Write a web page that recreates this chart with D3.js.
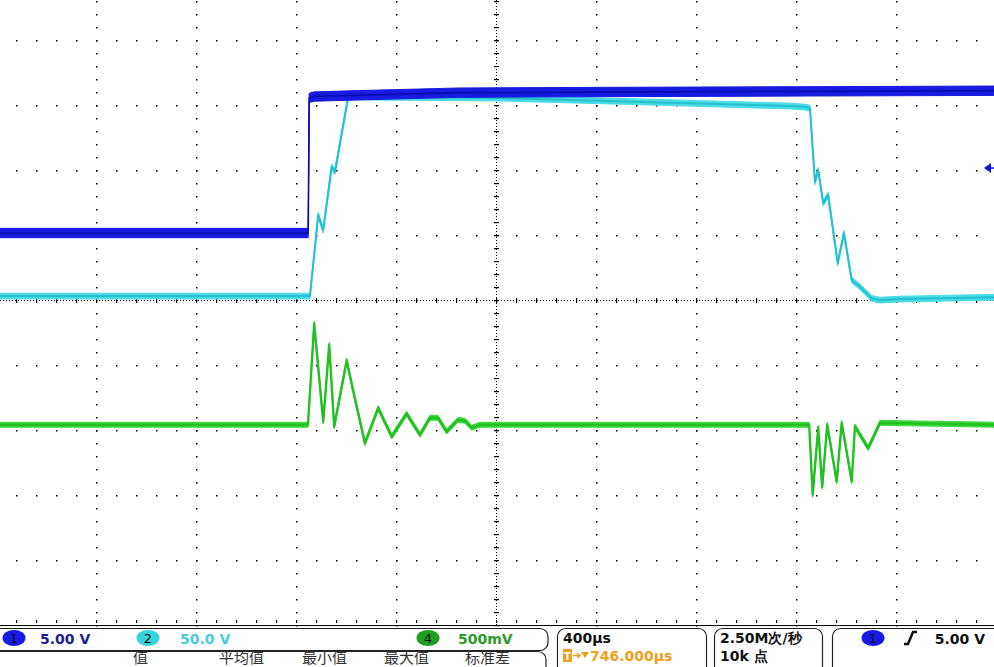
<!DOCTYPE html>
<html><head><meta charset="utf-8">
<script src="https://cdn.jsdelivr.net/npm/d3@7"></script>
<style>body{margin:0;background:#fff;overflow:hidden}svg{display:block}</style>
</head><body>
<script>
// ---- Acquisition settings ----
const timePerDivUs = 400;
const triggerDelayUs = 746;
const sampleRateLabel = "2.50M次/秒";
const recordLengthLabel = "10k 点";
const triggerLevelV = 5.0;

// ---- Channels ----
const channelIds = ["1", "2", "4"];
const voltsPerDiv = [5, 50, 0.5];
const positionDiv = [1.03, 0.06, -1.92];
const noiseHalfBandV = [0.36, 2.2, 0.019];
const scaleLabels = ["5.00 V", "50.0 V", "500mV"];
const measurementHeaders = ["值", "平均值", "最小值", "最大值", "标准差"];

// CH1 : time in µs, value in V
const ch1Time  = [-1260, -4, 0, 20, 200, 600, 1200, 2000, 2760];
const ch1Volts = [0, 0, 10.4, 10.5, 10.6, 10.8, 10.85, 10.9, 10.95];

// CH2
const ch2Time  = [-1260, 3, 36, 56, 90, 103, 156, 203, 763, 1363, 1923, 1983, 2003, 2023, 2036, 2056, 2076, 2114, 2139, 2170, 2203, 2250, 2283, 2363, 2760];
const ch2Volts = [0, 0, 62.3, 50.8, 99.5, 95.6, 153.3, 153.1, 152.3, 149.2, 146.2, 145.4, 144.6, 87.9, 96.9, 71.5, 77.7, 25.4, 48.5, 12.3, 7.2, -1.8, -3.1, -2.3, -0.8];

// CH4
const ch4Time  = [-1260, -5, 20, 56, 80, 100, 150, 175, 223, 276, 330, 390, 443, 483, 515, 550, 595, 623, 650, 683, 2000, 2014, 2036, 2052, 2072, 2110, 2130, 2170, 2183, 2236, 2283, 2760];
const ch4Volts = [0, 0, 0.777, 0.025, 0.615, -0.013, 0.495, 0.269, -0.141, 0.128, -0.09, 0.085, -0.077, 0.054, 0.054, -0.052, 0.038, 0.031, -0.023, 0, 0, -0.538, -0.023, -0.477, 0, -0.436, 0.015, -0.436, -0.013, -0.179, 0.015, 0];

const W = 994, H = 667;
const svg = d3.select("body").append("svg").attr("width", W).attr("height", H)
  .style("font-family", "'DejaVu Sans', sans-serif");

const x = d3.scaleLinear()
  .domain([triggerDelayUs - 5 * timePerDivUs, triggerDelayUs + 5 * timePerDivUs])
  .range([-4.3, 995.7]);
const yDiv = d3.scaleLinear().domain([-5, 5]).range([625, -25]);

const plot = svg.append("g");
plot.append("rect").attr("x", 0).attr("y", 0).attr("width", W).attr("height", 626).attr("fill", "#fff");

// ---- Graticule ----
const grid = plot.append("g").attr("fill", "#000");
const majorT = d3.range(-4, 5).map(k => triggerDelayUs + k * timePerDivUs);
const majorD = d3.range(-4, 5);
const minorD = d3.range(-25, 24).map(i => i * 0.2);
const minorT = d3.range(-50, 51).map(i => triggerDelayUs + i * timePerDivUs / 5);

majorT.forEach(t => {
  if (t === triggerDelayUs) return;
  minorD.forEach(d => {
    grid.append("rect").attr("x", Math.round(x(t))).attr("y", Math.round(yDiv(d))).attr("width", 1.5).attr("height", 1.5);
  });
});
majorD.forEach(d => {
  if (d === 0) return;
  minorT.forEach(t => {
    grid.append("rect").attr("x", Math.round(x(t))).attr("y", Math.round(yDiv(d))).attr("width", 1.5).attr("height", 1.5);
  });
});
const cx = Math.round(x(triggerDelayUs)), cy = Math.round(yDiv(0));
plot.append("line").attr("x1", 0).attr("x2", W).attr("y1", cy + 0.5).attr("y2", cy + 0.5)
  .attr("stroke", "#000").attr("stroke-dasharray", "1,2");
plot.append("line").attr("x1", cx + 0.5).attr("x2", cx + 0.5).attr("y1", 0).attr("y2", 626)
  .attr("stroke", "#000").attr("stroke-dasharray", "1,2");
minorT.forEach(t => {
  const px = Math.round(x(t));
  if (px < 0 || px > W) return;
  grid.append("rect").attr("x", px).attr("y", cy - 2).attr("width", 1.2).attr("height", 5);
});
minorD.forEach(d => {
  const py = Math.round(yDiv(d));
  if (py < 0 || py > 626) return;
  grid.append("rect").attr("x", cx - 2).attr("y", py).attr("width", 5).attr("height", 1.2);
});
minorT.forEach(t => {
  const px = Math.round(x(t));
  grid.append("rect").attr("x", px).attr("y", 620).attr("width", 1.2).attr("height", 3);
});
plot.append("line").attr("x1", 0).attr("x2", W).attr("y1", 625.5).attr("y2", 625.5).attr("stroke", "#000").attr("stroke-width", 1.2);

// ---- Waveforms: noise envelope (area) + trace line ----
function toDiv(v, ch) { return v / voltsPerDiv[ch] + positionDiv[ch]; }
function drawTrace(times, volts, ch, color, edge, lineW) {
  const n = noiseHalfBandV[ch];
  const area = d3.area()
    .x((d, i) => x(times[i]))
    .y0((d, i) => yDiv(toDiv(volts[i] - n, ch)))
    .y1((d, i) => yDiv(toDiv(volts[i] + n, ch)));
  const line = d3.line()
    .x((d, i) => x(times[i]))
    .y((d, i) => yDiv(toDiv(volts[i], ch)));
  plot.append("path").attr("d", area(times)).attr("fill", color).attr("stroke", color).attr("stroke-width", 1);
  plot.append("path").attr("d", line(times)).attr("fill", "none")
    .attr("stroke", edge).attr("stroke-width", lineW).attr("stroke-linejoin", "round");
}
drawTrace(ch4Time, ch4Volts, 2, "#3ad83a", "#22c022", 2.4);
drawTrace(ch2Time, ch2Volts, 1, "#48dce6", "#26c0cc", 2);
drawTrace(ch1Time, ch1Volts, 0, "#1a1ae0", "#0c0ca8", 1.6);

// trigger level marker (CH1)
const trigY = yDiv(toDiv(triggerLevelV, 0));
plot.append("path").attr("d", `M984,${trigY} L991,${trigY - 5} L991,${trigY + 5} Z`).attr("fill", "#1414d8");
plot.append("line").attr("x1", 990).attr("x2", 994).attr("y1", trigY).attr("y2", trigY).attr("stroke", "#1414d8").attr("stroke-width", 1.5);

// ---- Status bar ----
const bar = svg.append("g");
function box(x0, y0, w, h) {
  bar.append("rect").attr("x", x0).attr("y", y0).attr("width", w).attr("height", h)
    .attr("rx", 8).attr("fill", "#fff").attr("stroke", "#222").attr("stroke-width", 1.2);
}
box(-10, 628.5, 558, 22);
box(-10, 651.5, 556, 30);
box(557.5, 628.5, 149, 50);
box(714.5, 628.5, 108, 50);
box(832.5, 628.5, 180, 50);

const badgeX = [14, 148, 428];
const badgeFill = ["#1a1ae6", "#38d4dc", "#1f9e1f"];
const labelX = [40, 180, 458];
const labelColor = ["#20208c", "#48ccd6", "#2a9a2a"];
channelIds.forEach((id, i) => {
  bar.append("ellipse").attr("cx", badgeX[i]).attr("cy", 638).attr("rx", 11.5).attr("ry", 8).attr("fill", badgeFill[i]);
  bar.append("text").attr("x", badgeX[i]).attr("y", 643).attr("text-anchor", "middle")
    .attr("font-size", 13).attr("fill", "#111").text(id);
  bar.append("text").attr("x", labelX[i]).attr("y", 644).attr("font-size", 14).attr("font-weight", "bold")
    .attr("fill", labelColor[i]).text(scaleLabels[i]);
});
const headerX = [133, 219, 302, 384, 465];
measurementHeaders.forEach((h, i) => {
  bar.append("text").attr("x", headerX[i]).attr("y", 663).attr("font-size", 15)
    .attr("font-family", "'Noto Sans CJK SC', sans-serif").attr("fill", "#333").text(h);
});

bar.append("text").attr("x", 563).attr("y", 643).attr("font-size", 14).attr("font-weight", "bold").attr("fill", "#111")
  .text(timePerDivUs + "µs");
bar.append("rect").attr("x", 563).attr("y", 649).attr("width", 9).attr("height", 13).attr("fill", "#f0a020");
bar.append("text").attr("x", 567.5).attr("y", 660).attr("text-anchor", "middle").attr("font-size", 10).attr("font-weight", "bold").attr("fill", "#fff").text("T");
bar.append("path").attr("d", "M573,655.5 L579,655.5 M577,653 L580,655.5 L577,658").attr("stroke", "#f0a020").attr("stroke-width", 1.5).attr("fill", "none");
bar.append("path").attr("d", "M581,652 L589,652 L585,658 Z").attr("fill", "#f0a020");
bar.append("text").attr("x", 590).attr("y", 661).attr("font-size", 14).attr("font-weight", "bold").attr("fill", "#f0a020")
  .text(triggerDelayUs.toFixed(3) + "µs");

bar.append("text").attr("x", 720).attr("y", 643).attr("font-size", 14).attr("font-weight", "bold").attr("fill", "#111").text(sampleRateLabel);
bar.append("text").attr("x", 720).attr("y", 661).attr("font-size", 14).attr("font-weight", "bold").attr("fill", "#111").text(recordLengthLabel);

bar.append("ellipse").attr("cx", 873).attr("cy", 638).attr("rx", 11.5).attr("ry", 8).attr("fill", "#1a1ae6");
bar.append("text").attr("x", 873).attr("y", 643).attr("text-anchor", "middle").attr("font-size", 13).attr("fill", "#111").text(channelIds[0]);
bar.append("path").attr("d", "M904,644 L908,644 L913,632 L917,632").attr("stroke", "#111").attr("stroke-width", 2.5).attr("fill", "none");
bar.append("text").attr("x", 985).attr("y", 644).attr("text-anchor", "end").attr("font-size", 14).attr("font-weight", "bold").attr("fill", "#111")
  .text(triggerLevelV.toFixed(2) + " V");
</script>
</body></html>
